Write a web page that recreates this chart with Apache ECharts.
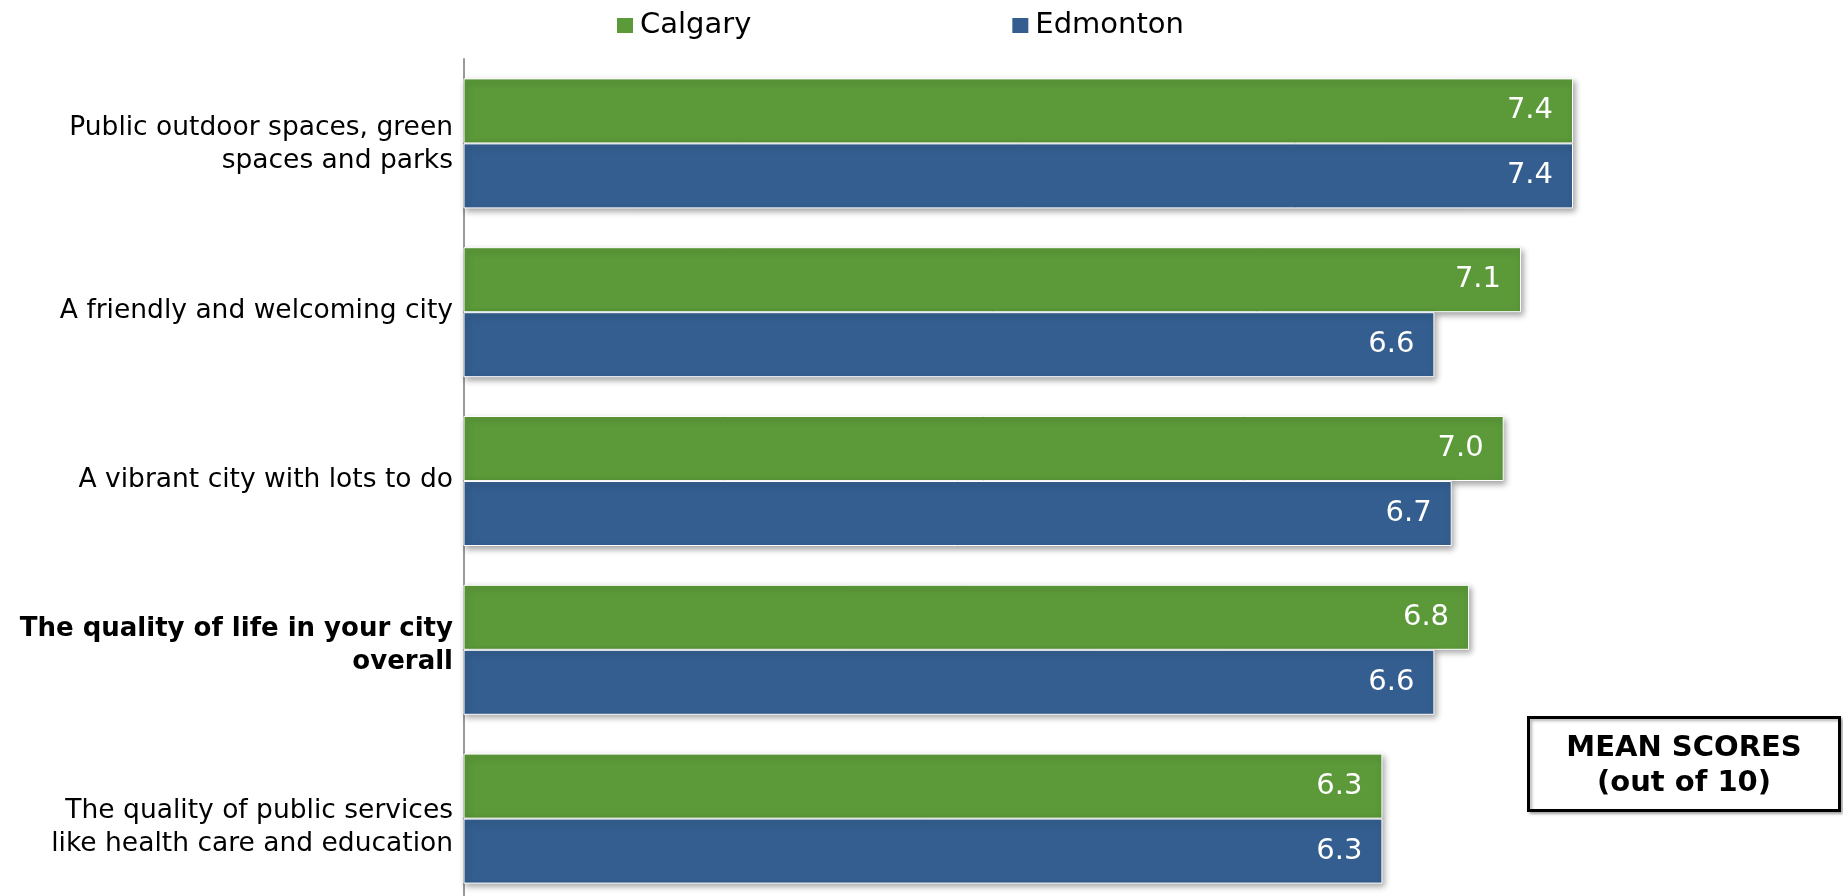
<!DOCTYPE html>
<html>
<head>
<meta charset="utf-8">
<script src="https://cdn.jsdelivr.net/npm/echarts@6/dist/echarts.min.js"></script>
<style>
html,body{margin:0;padding:0;background:#fff;}
#chart{width:1843px;height:896px;}
</style>
</head>
<body>
<div id="chart"></div>
<script>
const categories = [
  "Public outdoor spaces, green\nspaces and parks",
  "A friendly and welcoming city",
  "A vibrant city with lots to do",
  "The quality of life in your city\noverall",
  "The quality of public services\nlike health care and education"
];
const boldCategoryIndex = 3;
const seriesNames = ["Calgary", "Edmonton"];
const calgary = [7.4, 7.1, 7.0, 6.8, 6.3];
const edmonton = [7.4, 6.6, 6.7, 6.6, 6.3];
const boxLines = ["MEAN SCORES", "(out of 10)"];

const FONT = "DejaVu Sans, Verdana, sans-serif";
const colors = ["#5B9939", "#345E8F"];
// per-label vertical nudges (style only)
const labelPadding = [[2,0,0,0], [0,0,2,0], [0,0,2,0], [0,0,8,0], [18,0,0,0]];

const chart = echarts.init(document.getElementById('chart'), null, {renderer: 'canvas'});

function barSeries(name, data, color) {
  return {
    name: name,
    type: 'bar',
    data: data,
    barWidth: 65,
    barGap: '0%',
    itemStyle: {
      color: color,
      borderColor: '#ffffff',
      borderWidth: 1,
      shadowColor: 'rgba(0,0,0,0.35)',
      shadowBlur: 6,
      shadowOffsetX: 2,
      shadowOffsetY: 3
    },
    label: {
      show: true,
      position: 'insideRight',
      distance: 20,
      color: '#ffffff',
      fontSize: 29,
      fontFamily: FONT,
      padding: [4, 0, 0, 0],
      formatter: p => p.value.toFixed(1)
    }
  };
}

chart.setOption({
  animation: false,
  backgroundColor: '#ffffff',
  color: colors,
  legend: {
    data: seriesNames,
    left: 615,
    top: 11,
    padding: 0,
    icon: 'rect',
    itemWidth: 18,
    itemHeight: 17,
    itemGap: 259,
    textStyle: {fontSize: 29, fontFamily: FONT, color: '#000', padding: [2, 0, 0, 1]}
  },
  grid: {left: 464, width: 1213, top: 59, height: 844, containLabel: false, outerBoundsMode: 'none'},
  xAxis: {
    type: 'value',
    min: 1,
    max: 8,
    show: false,
    splitLine: {show: false}
  },
  yAxis: {
    type: 'category',
    data: categories.map((c, i) => ({value: c, textStyle: {padding: labelPadding[i]}})),
    inverse: true,
    axisLine: {show: true, lineStyle: {color: '#9a9a9a', width: 2}},
    axisTick: {show: false},
    axisLabel: {
      margin: 11,
      fontSize: 26.5,
      lineHeight: 33,
      color: '#000',
      fontFamily: FONT,
      align: 'right',
      formatter: (v, i) => i === boldCategoryIndex ? '{b|' + v + '}' : v,
      rich: {
        b: {fontWeight: 'bold', fontSize: 26, lineHeight: 33, fontFamily: FONT, color: '#000', align: 'right'}
      }
    }
  },
  series: [
    barSeries(seriesNames[0], calgary, colors[0]),
    barSeries(seriesNames[1], edmonton, colors[1])
  ],
  graphic: [{
    type: 'group',
    left: 1527,
    top: 716,
    children: [{
      type: 'rect',
      shape: {x: 0, y: 0, width: 311, height: 93},
      style: {fill: '#fff', stroke: '#000', lineWidth: 3, shadowColor: 'rgba(0,0,0,0.3)', shadowBlur: 3, shadowOffsetX: 2, shadowOffsetY: 2}
    }, {
      type: 'text',
      x: 155.5,
      y: 48,
      style: {
        text: boxLines.join('\n'),
        fontSize: 29,
        fontWeight: 'bold',
        fontFamily: FONT,
        lineHeight: 35,
        fill: '#000',
        align: 'center',
        verticalAlign: 'middle'
      }
    }]
  }]
});
</script>
</body>
</html>
